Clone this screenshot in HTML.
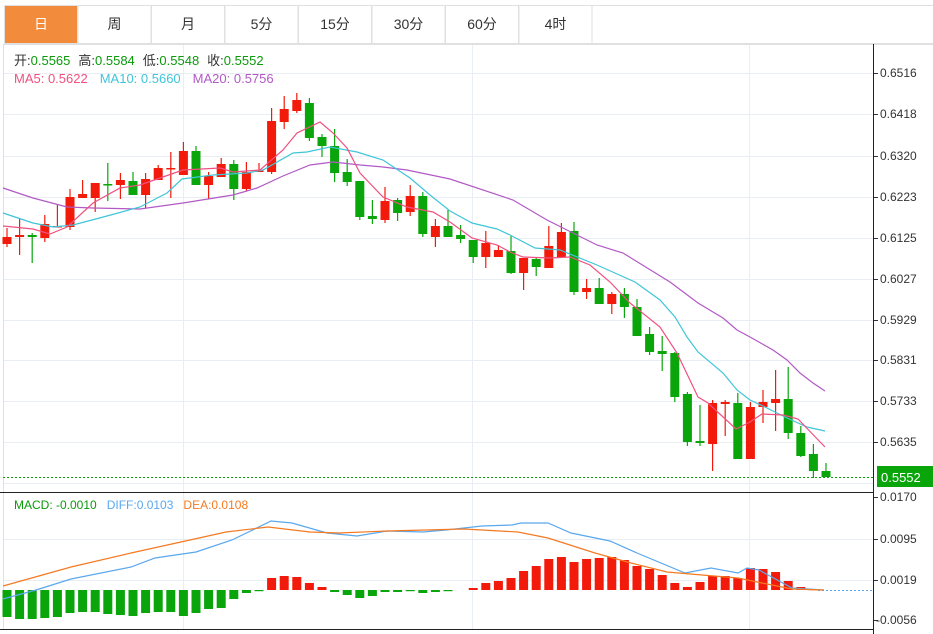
<!DOCTYPE html>
<html><head><meta charset="utf-8"><style>
html,body{margin:0;padding:0;background:#fff;width:933px;height:634px;overflow:hidden}
svg{display:block;font-family:"Liberation Sans","Noto Sans CJK SC",sans-serif}
</style></head><body>
<svg id="s" width="933" height="634" xmlns="http://www.w3.org/2000/svg">
<rect x="0" y="0" width="933" height="634" fill="#fff"/>
<line x1="4" y1="5.5" x2="933" y2="5.5" stroke="#e0e0e0"/>
<g id="tabs"></g>
<g stroke="#e8eef3" stroke-width="1">
<line x1="3" y1="73.5" x2="873" y2="73.5"/><line x1="3" y1="114.5" x2="873" y2="114.5"/><line x1="3" y1="156.5" x2="873" y2="156.5"/><line x1="3" y1="197.5" x2="873" y2="197.5"/><line x1="3" y1="238.5" x2="873" y2="238.5"/><line x1="3" y1="279.5" x2="873" y2="279.5"/><line x1="3" y1="320.5" x2="873" y2="320.5"/><line x1="3" y1="360.5" x2="873" y2="360.5"/><line x1="3" y1="401.5" x2="873" y2="401.5"/><line x1="3" y1="442.5" x2="873" y2="442.5"/><line x1="3" y1="483.5" x2="873" y2="483.5"/>
<line x1="3" y1="539.5" x2="873" y2="539.5"/><line x1="3" y1="580.5" x2="873" y2="580.5"/>
<line x1="183.5" y1="44" x2="183.5" y2="630"/><line x1="472.5" y1="44" x2="472.5" y2="630"/><line x1="749.5" y1="44" x2="749.5" y2="630"/>
</g>
<line x1="3.5" y1="44" x2="3.5" y2="630" stroke="#e0e0e0"/>
<line x1="3" y1="44.5" x2="933" y2="44.5" stroke="#e0e0e0"/>
<line x1="0" y1="492.5" x2="874" y2="492.5" stroke="#222"/>
<line x1="0" y1="629.5" x2="874" y2="629.5" stroke="#222"/>
<line x1="873.5" y1="44" x2="873.5" y2="634" stroke="#222"/>
<g id="ax" font-size="12" fill="#333"></g>
<g id="candles"></g>
<g fill="none" stroke-width="1.2">
<polyline stroke="#b259c6" points="3,188 33,198 67,207 93,208 140,209 183,203 233,195 257,188 283,176 310,165 333,162 360,165 383,167 407,170 450,179 513,200 547,220 597,245 623,253 670,282 698,303 723,318 737,330 750,337 773,350 787,360 800,373 813,383 825,391"/>
<polyline stroke="#3fc5d9" points="3,213 33,223 53,227 73,225 107,216 140,207 167,193 182,179 213,175 247,173 263,170 293,153 307,152 330,147 357,152 383,160 410,178 430,195 450,211 472,223 497,229 510,235 535,248 560,250 597,265 635,282 660,300 675,317 687,337 698,352 723,373 737,390 750,400 765,407 787,418 807,427 825,431"/>
<polyline stroke="#f0507f" points="3,226 33,229 50,234 67,227 93,203 120,188 140,185 160,178 183,170 220,168 233,172 260,170 283,150 297,133 320,122 333,133 347,148 360,173 383,197 407,207 433,212 450,222 472,238 497,245 510,252 523,257 550,258 570,257 590,265 610,282 630,303 660,327 677,353 698,397 708,403 736,429 750,422 762,414 783,415 798,419 825,447"/>
</g>
<line x1="3" y1="477.5" x2="873" y2="477.5" stroke="#0aa50a" stroke-dasharray="2,2"/>
<rect x="877" y="466" width="56" height="21" fill="#0aa50a"/>
<text x="881" y="482" font-size="13" fill="#fff">0.5552</text>
<g id="macd"></g>
<line x1="818" y1="590.5" x2="873" y2="590.5" stroke="#5aa8ee" stroke-dasharray="2,2"/>
<g fill="none" stroke-width="1.2">
<polyline stroke="#5aa8ee" points="3,599 36,590 71,579 131,567 155,558 196,552 232,540 271,521 292,523 327,533 357,536 387,531 423,532 446,530 482,526 512,525 521,523 548,523 571,533 610,541 637,553 685,573 711,568 738,573 747,568 759,570 792,588 824,590"/>
<polyline stroke="#f47a22" points="3,586 71,567 131,553 190,540 226,532 268,527 310,532 339,533 387,531 464,529 518,532 548,538 595,553 631,563 667,572 702,575 738,578 762,583 792,589 824,590"/>
</g>
<text y="65" font-size="13"><tspan x="14" fill="#333">开:</tspan><tspan fill="#0a9a0a">0.5565</tspan><tspan fill="#333" dx="8">高:</tspan><tspan fill="#0a9a0a">0.5584</tspan><tspan fill="#333" dx="8">低:</tspan><tspan fill="#0a9a0a">0.5548</tspan><tspan fill="#333" dx="8">收:</tspan><tspan fill="#0a9a0a">0.5552</tspan></text>
<text y="83" font-size="13"><tspan x="14" fill="#f0507f">MA5: 0.5622</tspan><tspan dx="12" fill="#3fc5d9">MA10: 0.5660</tspan><tspan dx="12" fill="#b259c6">MA20: 0.5756</tspan></text>
<text y="509" font-size="12"><tspan x="14" fill="#0a9a0a">MACD: -0.0010</tspan><tspan dx="10" fill="#5aa8ee">DIFF:0.0103</tspan><tspan dx="10" fill="#f47a22">DEA:0.0108</tspan></text>
</svg>
<script>
var NS="http://www.w3.org/2000/svg";
function el(p,t,a,txt){var e=document.createElementNS(NS,t);for(var k in a)e.setAttribute(k,a[k]);if(txt!=null)e.textContent=txt;p.appendChild(e);return e;}
var tabs=document.getElementById('tabs');
var names=["日","周","月","5分","15分","30分","60分","4时"];
for(var i=0;i<8;i++){var x=4+i*73.5;
 el(tabs,'rect',{x:x+0.5,y:5.5,width:73,height:38,fill:i==0?'#f28c3c':'#fff',stroke:'#e0e0e0'});
 el(tabs,'text',{x:x+37,y:29,'text-anchor':'middle','font-size':14,fill:i==0?'#fff':'#333'},names[i]);}
el(tabs,'line',{x1:592,y1:43.5,x2:933,y2:43.5,stroke:'#e0e0e0'});
var ax=document.getElementById('ax');
[[0.6516,73],[0.6418,114],[0.6320,156],[0.6223,197],[0.6125,238],[0.6027,279],[0.5929,320],[0.5831,360],[0.5733,401],[0.5635,442]].forEach(function(t){
 el(ax,'line',{x1:874,y1:t[1]+.5,x2:878,y2:t[1]+.5,stroke:'#333'});
 el(ax,'text',{x:880,y:t[1]+4},t[0].toFixed(4));});
[["0.0170",497],["0.0095",539],["0.0019",580],["-0.0056",620]].forEach(function(t){
 el(ax,'line',{x1:874,y1:t[1]+.5,x2:878,y2:t[1]+.5,stroke:'#333'});
 el(ax,'text',{x:t[0][0]=='-'?876:880,y:t[1]+4},t[0]);});
var C=[['r',237,244,228,247],['r',235,237,218,255],['g',235,237,233,263],['r',224,238,215,242],['r',226,227,205,227],['r',197,227,189,230],['r',194,198,180,198],['r',183,198,183,212],['g',184,185,163,201],['r',180,185,173,199],['g',181,195,172,195],['r',179,195,173,208],['r',168,180,165,180],['r',168,169,152,198],['r',151,175,142,175],['g',151,185,146,185],['r',176,185,172,199],['r',164,177,158,177],['g',164,189,160,200],['r',172,189,162,191],['r',170,172,163,172],['r',121,172,108,174],['r',109,122,96,129],['r',100,111,93,113],['g',103,138,98,141],['g',137,146,134,157],['g',146,173,129,182],['g',172,182,159,186],['g',181,217,181,220],['g',216,219,200,224],['r',201,220,187,223],['g',200,213,198,221],['r',196,212,185,216],['g',196,234,192,237],['r',226,237,219,247],['g',226,237,210,237],['g',235,239,225,243],['g',240,257,240,263],['r',243,257,231,268],['r',250,257,245,257],['g',251,273,236,274],['r',258,273,258,290],['g',259,267,257,276],['r',246,268,226,268],['r',232,257,223,257],['g',231,292,222,295],['r',288,292,279,299],['g',288,304,278,304],['r',294,304,292,314],['g',294,307,288,318],['g',307,336,299,336],['g',334,352,327,355],['g',351,354,336,371],['g',353,397,352,402],['g',394,442,392,446],['g',441,443,405,446],['r',403,444,400,471],['r',402,404,400,436],['g',403,459,393,459],['r',407,459,402,459],['r',402,407,390,423],['r',399,403,370,431],['g',399,433,367,439],['g',433,456,426,457],['g',454,471,444,478],['g',471,477,463,477]];
var cg=document.getElementById('candles');
C.forEach(function(c,i){var x=7+12.6*i,col=c[0]=='r'?'#f21a0a':'#0aa50a';
 el(cg,'line',{x1:x,y1:c[3],x2:x,y2:c[4],stroke:col,'stroke-width':1.2});
 el(cg,'rect',{x:x-4.5,y:c[1],width:9,height:Math.max(1.5,c[2]-c[1]),fill:col});});
var M=[617,619,619,618,617,613,612,612,614,615,616,613,612,612,616,613,609,608,599,593,591,578,576,577,583,587,592,595,598,596,592,592,591,593,592,591,590,588,583,581,578,571,566,559,557,562,559,558,557,560,566,569,575,583,587,582,576,576,578,568,569,572,581,587,589,590];
var mg=document.getElementById('macd');
M.forEach(function(y,i){var x=7+12.6*i;if(Math.abs(y-590)<0.5)return;
 var col=y<590?'#f21a0a':'#0aa50a';var t=Math.min(y,590),h=Math.max(1.2,Math.abs(y-590));
 el(mg,'rect',{x:x-4.5,y:t,width:9,height:h,fill:col});});
</script>
</body></html>
